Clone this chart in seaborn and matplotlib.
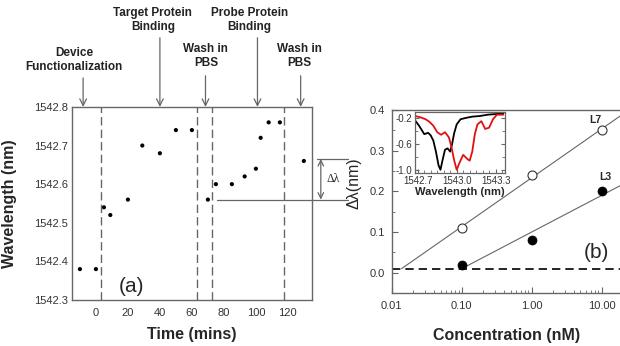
import numpy as np
import matplotlib
matplotlib.use("Agg")
import matplotlib.pyplot as plt
import matplotlib.transforms as mtransforms
from matplotlib.ticker import FuncFormatter, LogLocator, MultipleLocator, NullFormatter
import seaborn as sns

# --- panel (a): resonance wavelength vs time ---
time_min = [-10, 0, 5, 9, 20, 29, 40, 50, 60, 70, 75, 85, 93, 100, 103, 108, 115, 130]
wavelength_nm = [1542.38, 1542.38, 1542.54, 1542.52, 1542.56, 1542.70, 1542.68, 1542.74, 1542.74,
                 1542.56, 1542.60, 1542.60, 1542.62, 1542.64, 1542.72, 1542.76, 1542.76, 1542.66]
step_times = [3, 63, 72.5, 117.5]
event_times = [-8, 40, 68.5, 101, 128]
event_labels = ["Device\nFunctionalization", "Target Protein\nBinding", "Wash in\nPBS",
                "Probe Protein\nBinding", "Wash in\nPBS"]
shift_levels = [1542.56, 1542.665]

# --- panel (b): shift vs concentration ---
conc_nM = [0.1, 1.0, 10.0]
shift_L7 = [0.11, 0.24, 0.35]
shift_L3 = [0.02, 0.08, 0.20]
noise_floor = 0.01

# --- inset spectra ---
wl_black = [1542.68, 1542.71, 1542.75, 1542.78, 1542.80, 1542.82, 1542.84, 1542.86, 1542.875,
            1542.89, 1542.91, 1542.93, 1542.95, 1542.965, 1542.98, 1543.00, 1543.03, 1543.07,
            1543.12, 1543.18, 1543.24, 1543.30, 1543.36]
tr_black = [-0.24, -0.32, -0.45, -0.43, -0.47, -0.55, -0.72, -0.93, -1.0, -0.86, -0.69, -0.67,
            -0.72, -0.60, -0.44, -0.30, -0.22, -0.20, -0.18, -0.17, -0.15, -0.14, -0.13]
wl_red = [1542.68, 1542.72, 1542.76, 1542.79, 1542.82, 1542.85, 1542.88, 1542.91, 1542.94,
          1542.96, 1542.98, 1543.00, 1543.02, 1543.05, 1543.08, 1543.10, 1543.12, 1543.14,
          1543.16, 1543.19, 1543.22, 1543.25, 1543.28, 1543.31, 1543.36]
tr_red = [-0.17, -0.19, -0.22, -0.26, -0.32, -0.42, -0.46, -0.42, -0.50, -0.65, -0.85, -1.0,
          -0.90, -0.77, -0.83, -0.86, -0.72, -0.45, -0.30, -0.25, -0.37, -0.35, -0.22, -0.15, -0.15]

sns.set_style("white")
plt.rcParams["font.family"] = ["Liberation Sans", "DejaVu Sans"]

GRAY = "#666666"
fig = plt.figure(figsize=(6.2, 3.46), dpi=100)

# ================= panel (a) =================
ax1 = fig.add_axes([0.116, 0.133, 0.387, 0.558])
sns.scatterplot(x=time_min, y=wavelength_nm, ax=ax1, color="black", s=9, edgecolor="none")
for t in step_times:
    ax1.axvline(t, color=GRAY, ls=(0, (6, 3)), lw=1)
ax1.set_xlim(-15, 135)
ax1.set_ylim(1542.3, 1542.8)
ax1.set_xticks(range(0, 121, 20))
ax1.set_yticks(np.arange(1542.3, 1542.81, 0.1))
ax1.yaxis.set_major_formatter(FuncFormatter(lambda v, p: f"{v:.1f}"))
ax1.tick_params(length=0, labelsize=8, labelcolor="#333333")
ax1.tick_params(axis="x", pad=6)
ax1.tick_params(axis="y", pad=3)
for s in ax1.spines.values():
    s.set_color(GRAY)
    s.set_linewidth(1)
ax1.set_xlabel("Time (mins)", fontsize=11.5, fontweight="bold")
ax1.set_ylabel("Wavelength (nm)", fontsize=11.5, fontweight="bold")
ax1.xaxis.set_label_coords(0.5, -0.14)
ax1.yaxis.set_label_coords(-0.229, 0.5)
ax1.text(22.5, 1542.335, "(a)", fontsize=15, ha="center", va="center")

# event arrows + labels
trans = mtransforms.blended_transform_factory(ax1.transData, ax1.transAxes)
arrow_top = [1.150, 1.358, 1.161, 1.358, 1.161]
label_x = [-13.75, 35.6, 68.75, 96, 127]
label_y = [1.241, 1.451, 1.264, 1.451, 1.264]
for t, lab, ya, lx, ly in zip(event_times, event_labels, arrow_top, label_x, label_y):
    ax1.annotate("", xy=(t, 1.0), xytext=(t, ya), xycoords=trans, textcoords=trans,
                 arrowprops=dict(arrowstyle="->", color=GRAY, lw=0.9, mutation_scale=12,
                                 shrinkA=0, shrinkB=0))
    ax1.text(lx, ly, lab, transform=trans, ha="center", va="center", fontsize=8.5,
             fontweight="bold", color="#222222", linespacing=1.2)

# delta-lambda marker
ax1.plot([76, 157.5], [shift_levels[0]] * 2, color=GRAY, lw=0.9, clip_on=False)
ax1.plot([138, 157.5], [shift_levels[1]] * 2, color=GRAY, lw=0.9, clip_on=False)
ax1.annotate("", xy=(140.6, shift_levels[0]), xytext=(140.6, shift_levels[1]),
             arrowprops=dict(arrowstyle="<->", color=GRAY, lw=0.9, mutation_scale=10,
                             shrinkA=0, shrinkB=0), annotation_clip=False)
ax1.text(148, np.mean(shift_levels), "Δλ", fontsize=8.5, ha="center", va="center",
         family=["Liberation Serif", "DejaVu Serif"], clip_on=False)

# ================= panel (b) =================
ax2 = fig.add_axes([0.632, 0.153, 0.392, 0.529])
ax2.set_xscale("log")
ax2.set_xlim(0.01, 30)
ax2.set_ylim(-0.05, 0.4)
ax2.axhline(noise_floor, color="black", ls=(0, (5, 3)), lw=1.2)

logc = np.log10(conc_nM)
k7, b7 = np.polyfit(logc, shift_L7, 1)
k3, b3 = np.polyfit(logc, shift_L3, 1)
x7 = np.array([(noise_floor - b7) / k7, np.log10(30)])
x3 = np.array([logc[0], np.log10(30)])
ax2.plot(10 ** x7, k7 * x7 + b7, color=GRAY, lw=0.8)
ax2.plot(10 ** x3, k3 * x3 + b3, color=GRAY, lw=0.8)

sns.scatterplot(x=conc_nM, y=shift_L7, ax=ax2, s=42, facecolor="white",
                edgecolor="#333333", linewidth=0.8, zorder=3)
sns.scatterplot(x=conc_nM, y=shift_L3, ax=ax2, s=42, color="black",
                edgecolor="black", zorder=3)
ax2.text(10, 0.375, "L7", fontsize=7.5, fontweight="bold", ha="right", va="center")
ax2.text(11.5, 0.235, "L3", fontsize=7.5, fontweight="bold", ha="center", va="center")
ax2.text(0.84, 0.22, "(b)", transform=ax2.transAxes, fontsize=15, ha="center", va="center")

ax2.set_xticks([0.01, 0.1, 1, 10])
ax2.xaxis.set_major_formatter(FuncFormatter(lambda v, p: f"{v:.2f}"))
ax2.xaxis.set_minor_locator(LogLocator(base=10, subs=np.arange(2, 10)))
ax2.xaxis.set_minor_formatter(NullFormatter())
ax2.yaxis.set_major_locator(MultipleLocator(0.1))
ax2.yaxis.set_minor_locator(MultipleLocator(0.05))
ax2.yaxis.set_major_formatter(FuncFormatter(lambda v, p: f"{v:.1f}"))
ax2.tick_params(which="both", direction="in", labelsize=8, labelcolor="#333333", color=GRAY)
ax2.tick_params(which="major", length=4)
ax2.tick_params(which="minor", length=2.5)
ax2.tick_params(axis="x", which="both", bottom=True, pad=6)
ax2.tick_params(axis="y", which="both", left=True, pad=5)
for s in ax2.spines.values():
    s.set_color(GRAY)
    s.set_linewidth(1)
ax2.set_xlabel("Concentration (nM)", fontsize=11.5, fontweight="bold")
ax2.set_ylabel("Δλ(nm)", fontsize=11.5)
ax2.xaxis.set_label_coords(0.473, -0.19)
ax2.yaxis.set_label_coords(-0.123, 0.6)

# ================= inset =================
axin = fig.add_axes([0.669, 0.5, 0.145, 0.176])
sns.lineplot(x=wl_black, y=tr_black, ax=axin, color="black", lw=1.3, sort=False, estimator=None)
sns.lineplot(x=wl_red, y=tr_red, ax=axin, color="#e01010", lw=1.3, sort=False, estimator=None)
axin.set_xlim(1542.677, 1543.37)
axin.set_ylim(-1.05, -0.11)
axin.set_xticks([1542.7, 1543.0, 1543.3])
axin.xaxis.set_major_formatter(FuncFormatter(lambda v, p: f"{v:.1f}"))
axin.xaxis.set_minor_locator(MultipleLocator(0.05))
axin.set_yticks([-1.0, -0.6, -0.2])
axin.yaxis.set_minor_locator(MultipleLocator(0.2))
axin.yaxis.set_major_formatter(FuncFormatter(lambda v, p: f"{v:.1f}"))
axin.tick_params(which="both", direction="in", labelsize=7, labelcolor="#333333",
                 color=GRAY, right=True, bottom=True, left=True, pad=2)
axin.tick_params(which="major", length=3)
axin.tick_params(which="minor", length=2)
for s in axin.spines.values():
    s.set_color(GRAY)
    s.set_linewidth(0.9)
axin.set_xlabel("Wavelength (nm)", fontsize=8, fontweight="bold", labelpad=1)

fig.savefig("out.png", dpi=100)
